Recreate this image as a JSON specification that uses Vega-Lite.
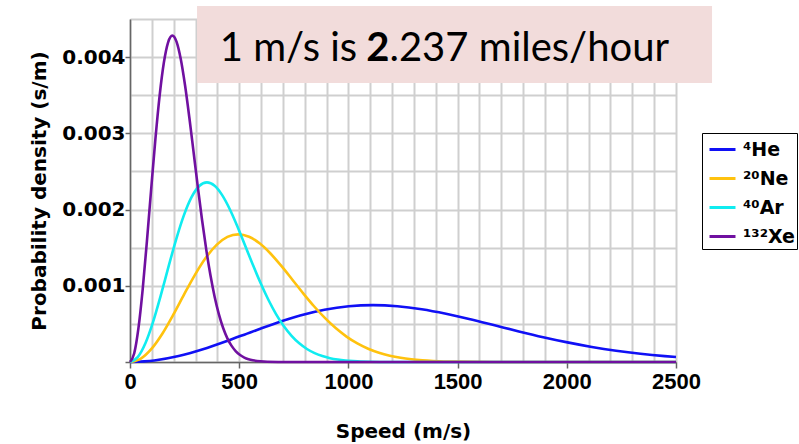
{
  "$schema": "https://vega.github.io/schema/vega-lite/v6.json",
  "width": 546,
  "height": 343,
  "autosize": {"type": "none"},
  "padding": {"left": 130, "top": 19, "right": 123, "bottom": 82},
  "background": "white",
  "config": {"view": {"stroke": null}},
  "datasets": {
    "curves": [
      {"gas": "⁴He", "speed": 0, "density": 0},
      {"gas": "⁴He", "speed": 111.3, "density": 0.00002008},
      {"gas": "⁴He", "speed": 222.6, "density": 0.00007794},
      {"gas": "⁴He", "speed": 333.9, "density": 0.0001668},
      {"gas": "⁴He", "speed": 445.2, "density": 0.0002765},
      {"gas": "⁴He", "speed": 556.5, "density": 0.0003948},
      {"gas": "⁴He", "speed": 667.7, "density": 0.0005093},
      {"gas": "⁴He", "speed": 779.0, "density": 0.0006088},
      {"gas": "⁴He", "speed": 890.3, "density": 0.0006844},
      {"gas": "⁴He", "speed": 1001.6, "density": 0.0007307},
      {"gas": "⁴He", "speed": 1112.9, "density": 0.000746},
      {"gas": "⁴He", "speed": 1224.2, "density": 0.0007317},
      {"gas": "⁴He", "speed": 1335.5, "density": 0.0006919},
      {"gas": "⁴He", "speed": 1446.8, "density": 0.0006324},
      {"gas": "⁴He", "speed": 1558.1, "density": 0.0005599},
      {"gas": "⁴He", "speed": 1669.4, "density": 0.0004809},
      {"gas": "⁴He", "speed": 1780.6, "density": 0.0004013},
      {"gas": "⁴He", "speed": 1891.9, "density": 0.0003257},
      {"gas": "⁴He", "speed": 2003.2, "density": 0.0002573},
      {"gas": "⁴He", "speed": 2114.5, "density": 0.000198},
      {"gas": "⁴He", "speed": 2225.8, "density": 0.0001486},
      {"gas": "⁴He", "speed": 2337.1, "density": 0.0001087},
      {"gas": "⁴He", "speed": 2448.4, "density": 0.0000776},
      {"gas": "⁴He", "speed": 2500, "density": 0.0000658},
      {"gas": "²⁰Ne", "speed": 0, "density": 0},
      {"gas": "²⁰Ne", "speed": 49.6, "density": 0.0000451},
      {"gas": "²⁰Ne", "speed": 99.1, "density": 0.000175},
      {"gas": "²⁰Ne", "speed": 148.7, "density": 0.0003745},
      {"gas": "²⁰Ne", "speed": 198.3, "density": 0.0006208},
      {"gas": "²⁰Ne", "speed": 247.8, "density": 0.0008865},
      {"gas": "²⁰Ne", "speed": 297.4, "density": 0.0011436},
      {"gas": "²⁰Ne", "speed": 347.0, "density": 0.0013668},
      {"gas": "²⁰Ne", "speed": 396.5, "density": 0.0015366},
      {"gas": "²⁰Ne", "speed": 446.1, "density": 0.0016407},
      {"gas": "²⁰Ne", "speed": 495.7, "density": 0.001675},
      {"gas": "²⁰Ne", "speed": 545.2, "density": 0.0016429},
      {"gas": "²⁰Ne", "speed": 594.8, "density": 0.0015535},
      {"gas": "²⁰Ne", "speed": 644.3, "density": 0.0014199},
      {"gas": "²⁰Ne", "speed": 693.9, "density": 0.0012571},
      {"gas": "²⁰Ne", "speed": 743.5, "density": 0.0010798},
      {"gas": "²⁰Ne", "speed": 793.0, "density": 0.0009011},
      {"gas": "²⁰Ne", "speed": 842.6, "density": 0.0007313},
      {"gas": "²⁰Ne", "speed": 892.2, "density": 0.0005778},
      {"gas": "²⁰Ne", "speed": 941.7, "density": 0.0004447},
      {"gas": "²⁰Ne", "speed": 991.3, "density": 0.0003336},
      {"gas": "²⁰Ne", "speed": 1040.9, "density": 0.0002441},
      {"gas": "²⁰Ne", "speed": 1090.4, "density": 0.0001743},
      {"gas": "²⁰Ne", "speed": 1140.0, "density": 0.0001214},
      {"gas": "²⁰Ne", "speed": 1189.6, "density": 0.0000826},
      {"gas": "²⁰Ne", "speed": 1239.1, "density": 0.0000549},
      {"gas": "²⁰Ne", "speed": 1288.7, "density": 0.0000357},
      {"gas": "²⁰Ne", "speed": 1338.3, "density": 0.0000227},
      {"gas": "²⁰Ne", "speed": 1387.8, "density": 0.0000141},
      {"gas": "²⁰Ne", "speed": 1487.0, "density": 0.0000051},
      {"gas": "²⁰Ne", "speed": 1734.8, "density": 0.0000003},
      {"gas": "²⁰Ne", "speed": 2500, "density": 0},
      {"gas": "⁴⁰Ar", "speed": 0, "density": 0},
      {"gas": "⁴⁰Ar", "speed": 35.2, "density": 0.0000634},
      {"gas": "⁴⁰Ar", "speed": 70.5, "density": 0.0002462},
      {"gas": "⁴⁰Ar", "speed": 105.7, "density": 0.0005269},
      {"gas": "⁴⁰Ar", "speed": 140.9, "density": 0.0008735},
      {"gas": "⁴⁰Ar", "speed": 176.1, "density": 0.0012473},
      {"gas": "⁴⁰Ar", "speed": 211.4, "density": 0.001609},
      {"gas": "⁴⁰Ar", "speed": 246.6, "density": 0.0019231},
      {"gas": "⁴⁰Ar", "speed": 281.8, "density": 0.0021619},
      {"gas": "⁴⁰Ar", "speed": 317.1, "density": 0.0023084},
      {"gas": "⁴⁰Ar", "speed": 352.3, "density": 0.0023567},
      {"gas": "⁴⁰Ar", "speed": 387.5, "density": 0.0023115},
      {"gas": "⁴⁰Ar", "speed": 422.7, "density": 0.0021857},
      {"gas": "⁴⁰Ar", "speed": 458.0, "density": 0.0019977},
      {"gas": "⁴⁰Ar", "speed": 493.2, "density": 0.0017687},
      {"gas": "⁴⁰Ar", "speed": 528.4, "density": 0.0015192},
      {"gas": "⁴⁰Ar", "speed": 563.6, "density": 0.0012678},
      {"gas": "⁴⁰Ar", "speed": 598.9, "density": 0.0010289},
      {"gas": "⁴⁰Ar", "speed": 634.1, "density": 0.0008129},
      {"gas": "⁴⁰Ar", "speed": 669.3, "density": 0.0006256},
      {"gas": "⁴⁰Ar", "speed": 704.6, "density": 0.0004693},
      {"gas": "⁴⁰Ar", "speed": 739.8, "density": 0.0003434},
      {"gas": "⁴⁰Ar", "speed": 775.0, "density": 0.0002452},
      {"gas": "⁴⁰Ar", "speed": 810.2, "density": 0.0001709},
      {"gas": "⁴⁰Ar", "speed": 845.5, "density": 0.0001163},
      {"gas": "⁴⁰Ar", "speed": 880.7, "density": 0.0000773},
      {"gas": "⁴⁰Ar", "speed": 915.9, "density": 0.0000502},
      {"gas": "⁴⁰Ar", "speed": 951.2, "density": 0.0000319},
      {"gas": "⁴⁰Ar", "speed": 986.4, "density": 0.0000198},
      {"gas": "⁴⁰Ar", "speed": 1021.6, "density": 0.000012},
      {"gas": "⁴⁰Ar", "speed": 1056.8, "density": 0.0000071},
      {"gas": "⁴⁰Ar", "speed": 1233.0, "density": 0.0000004},
      {"gas": "⁴⁰Ar", "speed": 2500, "density": 0},
      {"gas": "¹³²Xe", "speed": 0, "density": 0},
      {"gas": "¹³²Xe", "speed": 19.4, "density": 0.0001153},
      {"gas": "¹³²Xe", "speed": 38.8, "density": 0.0004474},
      {"gas": "¹³²Xe", "speed": 58.2, "density": 0.0009575},
      {"gas": "¹³²Xe", "speed": 77.5, "density": 0.0015872},
      {"gas": "¹³²Xe", "speed": 96.9, "density": 0.0022665},
      {"gas": "¹³²Xe", "speed": 116.3, "density": 0.0029238},
      {"gas": "¹³²Xe", "speed": 135.7, "density": 0.0034945},
      {"gas": "¹³²Xe", "speed": 155.1, "density": 0.0039285},
      {"gas": "¹³²Xe", "speed": 174.5, "density": 0.0041947},
      {"gas": "¹³²Xe", "speed": 193.9, "density": 0.0042825},
      {"gas": "¹³²Xe", "speed": 213.3, "density": 0.0042003},
      {"gas": "¹³²Xe", "speed": 232.6, "density": 0.0039717},
      {"gas": "¹³²Xe", "speed": 252.0, "density": 0.0036301},
      {"gas": "¹³²Xe", "speed": 271.4, "density": 0.0032139},
      {"gas": "¹³²Xe", "speed": 290.8, "density": 0.0027606},
      {"gas": "¹³²Xe", "speed": 310.2, "density": 0.0023038},
      {"gas": "¹³²Xe", "speed": 329.6, "density": 0.0018697},
      {"gas": "¹³²Xe", "speed": 349.0, "density": 0.0014771},
      {"gas": "¹³²Xe", "speed": 368.4, "density": 0.0011368},
      {"gas": "¹³²Xe", "speed": 387.7, "density": 0.0008529},
      {"gas": "¹³²Xe", "speed": 407.1, "density": 0.000624},
      {"gas": "¹³²Xe", "speed": 426.5, "density": 0.0004455},
      {"gas": "¹³²Xe", "speed": 445.9, "density": 0.0003105},
      {"gas": "¹³²Xe", "speed": 465.3, "density": 0.0002113},
      {"gas": "¹³²Xe", "speed": 484.7, "density": 0.0001405},
      {"gas": "¹³²Xe", "speed": 504.1, "density": 0.0000912},
      {"gas": "¹³²Xe", "speed": 523.4, "density": 0.0000579},
      {"gas": "¹³²Xe", "speed": 542.8, "density": 0.0000359},
      {"gas": "¹³²Xe", "speed": 562.2, "density": 0.0000218},
      {"gas": "¹³²Xe", "speed": 581.6, "density": 0.0000129},
      {"gas": "¹³²Xe", "speed": 678.5, "density": 0.0000007},
      {"gas": "¹³²Xe", "speed": 775.5, "density": 0},
      {"gas": "¹³²Xe", "speed": 2500, "density": 0}
    ],
    "noteBox": [
      {"x1": 307, "x2": 2665, "y1": 0.00467, "y2": 0.00366}
    ],
    "noteText": [
      {"part": "a", "t": "1 m/s is", "x": 1040, "y": 0.003949},
      {"part": "b", "t": "2", "x": 1082, "y": 0.003949},
      {"part": "c", "t": ".237 miles/hour", "x": 1188, "y": 0.003949}
    ]
  },
  "layer": [
    {
      "data": {"name": "curves"},
      "mark": {"type": "line", "interpolate": "monotone", "strokeWidth": 2.6},
      "encoding": {
        "x": {
          "field": "speed",
          "type": "quantitative",
          "scale": {"domain": [0, 2500], "nice": false},
          "axis": {
            "title": "Speed (m/s)",
            "values": [0, 100, 200, 300, 400, 500, 600, 700, 800, 900, 1000, 1100, 1200, 1300, 1400, 1500, 1600, 1700, 1800, 1900, 2000, 2100, 2200, 2300, 2400, 2500],
            "tickCount": 40,
            "format": "d",
            "labelExpr": "datum.value % 500 == 0 ? datum.label : ''",
            "labelOverlap": false,
            "labelFlush": false,
            "labelFont": "Liberation Sans",
            "labelFontWeight": "bold",
            "labelFontSize": 22,
            "labelColor": "black",
            "labelPadding": 3,
            "tickSize": 6,
            "tickWidth": 1.5,
            "tickColor": "#666666",
            "tickOpacity": {"condition": {"test": "datum.value % 500 == 0", "value": 1}, "value": 0},
            "domainColor": "#666666",
            "domainWidth": 1.5,
            "gridColor": "#cfcfcf",
            "gridWidth": 2,
            "titleFont": "DejaVu Sans",
            "titleFontWeight": "bold",
            "titleFontSize": 20,
            "titleColor": "black",
            "titleBaseline": "alphabetic",
            "titleY": 75
          }
        },
        "y": {
          "field": "density",
          "type": "quantitative",
          "scale": {"domain": [0, 0.0045], "nice": false},
          "axis": {
            "title": "Probability density (s/m)",
            "values": [0, 0.0005, 0.001, 0.0015, 0.002, 0.0025, 0.003, 0.0035, 0.004, 0.0045],
            "tickCount": 20,
            "labelExpr": "(round(datum.value * 10000) % 10 == 0 && datum.value > 0) ? format(datum.value, '.3f') : ''",
            "labelOverlap": false,
            "labelFont": "DejaVu Sans",
            "labelFontWeight": "bold",
            "labelFontSize": 20,
            "labelColor": "black",
            "labelPadding": 0,
            "tickSize": 5,
            "tickWidth": 1.5,
            "tickColor": "#666666",
            "tickOpacity": {"condition": {"test": "round(datum.value * 10000) % 10 == 0", "value": 1}, "value": 0},
            "domainColor": "#666666",
            "domainWidth": 1.5,
            "gridColor": "#cfcfcf",
            "gridWidth": 2,
            "titleFont": "DejaVu Sans",
            "titleFontWeight": "bold",
            "titleFontSize": 20,
            "titleColor": "black",
            "titleAngle": -90,
            "titleBaseline": "alphabetic",
            "titleAlign": "center",
            "titleX": -85,
            "titleY": 171.5
          }
        },
        "color": {
          "field": "gas",
          "type": "nominal",
          "scale": {
            "domain": ["⁴He", "²⁰Ne", "⁴⁰Ar", "¹³²Xe"],
            "range": ["#1010f5", "#ffc20e", "#10ecf0", "#7010a0"]
          },
          "legend": {
            "orient": "none",
            "legendX": 572,
            "legendY": 114,
            "title": null,
            "strokeColor": "black",
            "padding": 2,
            "symbolType": "stroke",
            "symbolSize": 676,
            "symbolStrokeWidth": 3,
            "symbolOffset": 4,
            "labelFont": "DejaVu Sans",
            "labelFontWeight": "bold",
            "labelFontSize": 19,
            "labelColor": "black",
            "labelOffset": 6,
            "rowPadding": 4
          }
        }
      }
    },
    {
      "data": {"name": "noteBox"},
      "mark": {"type": "rect", "color": "#f2dcdb"},
      "encoding": {
        "x": {"field": "x1", "type": "quantitative", "scale": {"domain": [0, 2500], "nice": false}},
        "x2": {"field": "x2"},
        "y": {"field": "y1", "type": "quantitative", "scale": {"domain": [0, 0.0045], "nice": false}},
        "y2": {"field": "y2"}
      }
    },
    {
      "data": {"name": "noteText"},
      "transform": [{"filter": "datum.part == 'a'"}],
      "mark": {"type": "text", "font": "Lato", "fontSize": 40, "align": "right", "baseline": "alphabetic", "color": "black"},
      "encoding": {
        "x": {"field": "x", "type": "quantitative", "scale": {"domain": [0, 2500], "nice": false}},
        "y": {"field": "y", "type": "quantitative", "scale": {"domain": [0, 0.0045], "nice": false}},
        "text": {"field": "t"}
      }
    },
    {
      "data": {"name": "noteText"},
      "transform": [{"filter": "datum.part == 'b'"}],
      "mark": {"type": "text", "font": "Lato", "fontSize": 40, "fontWeight": "bold", "align": "left", "baseline": "alphabetic", "color": "black"},
      "encoding": {
        "x": {"field": "x", "type": "quantitative", "scale": {"domain": [0, 2500], "nice": false}},
        "y": {"field": "y", "type": "quantitative", "scale": {"domain": [0, 0.0045], "nice": false}},
        "text": {"field": "t"}
      }
    },
    {
      "data": {"name": "noteText"},
      "transform": [{"filter": "datum.part == 'c'"}],
      "mark": {"type": "text", "font": "Lato", "fontSize": 40, "align": "left", "baseline": "alphabetic", "color": "black"},
      "encoding": {
        "x": {"field": "x", "type": "quantitative", "scale": {"domain": [0, 2500], "nice": false}},
        "y": {"field": "y", "type": "quantitative", "scale": {"domain": [0, 0.0045], "nice": false}},
        "text": {"field": "t"}
      }
    }
  ]
}
